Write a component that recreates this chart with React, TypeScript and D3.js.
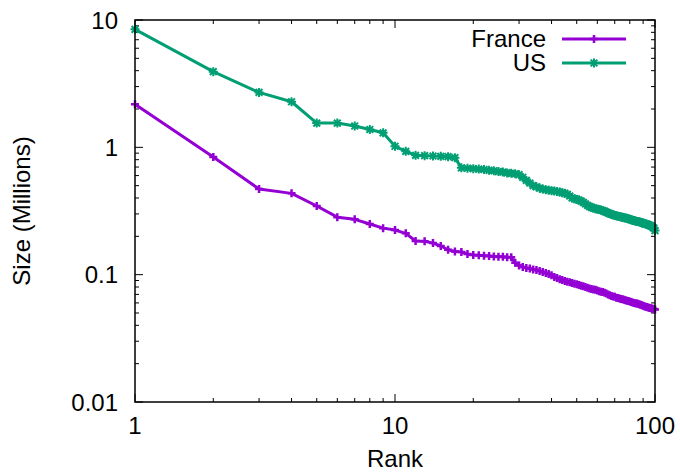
import React from "react";
import * as d3 from "d3";

const ranks: number[] = d3.range(1, 101);

const franceSizes: number[] = [
  2.18, 0.84, 0.47, 0.435, 0.346, 0.283, 0.272, 0.25, 0.232, 0.224,
  0.211, 0.184, 0.183, 0.177, 0.168, 0.157, 0.152, 0.151, 0.145, 0.143,
  0.142, 0.141, 0.14, 0.139, 0.138, 0.138, 0.137, 0.137, 0.124, 0.118,
  0.115, 0.113, 0.112, 0.11, 0.109, 0.107, 0.105, 0.103, 0.101, 0.099,
  0.096, 0.094, 0.092, 0.091, 0.089, 0.088, 0.087, 0.086, 0.085, 0.084,
  0.083, 0.082, 0.081, 0.08, 0.079, 0.078, 0.077, 0.0765, 0.076, 0.075,
  0.074, 0.0735, 0.073, 0.072, 0.071, 0.07, 0.069, 0.068, 0.0675, 0.067,
  0.066, 0.0655, 0.065, 0.0645, 0.064, 0.0635, 0.063, 0.0625, 0.062, 0.0615,
  0.061, 0.0605, 0.06, 0.0597, 0.0593, 0.059, 0.0585, 0.058, 0.0575, 0.057,
  0.0565, 0.056, 0.0557, 0.0553, 0.055, 0.0547, 0.0543, 0.054, 0.0537, 0.0533,
];

const usSizes: number[] = [
  8.45, 3.93, 2.7, 2.28, 1.55, 1.55, 1.47, 1.38, 1.3, 1.02,
  0.93, 0.865, 0.86, 0.855, 0.85, 0.845, 0.83, 0.69, 0.685, 0.68,
  0.675, 0.67, 0.66, 0.655, 0.645, 0.64, 0.63, 0.625, 0.62, 0.61,
  0.58, 0.55, 0.525, 0.5, 0.49, 0.478, 0.47, 0.465, 0.46, 0.457,
  0.455, 0.45, 0.445, 0.44, 0.435, 0.428, 0.415, 0.4, 0.395, 0.39,
  0.385, 0.378, 0.37, 0.36, 0.35, 0.342, 0.338, 0.334, 0.33, 0.327,
  0.325, 0.322, 0.318, 0.314, 0.31, 0.305, 0.302, 0.298, 0.295, 0.292,
  0.29, 0.288, 0.286, 0.284, 0.282, 0.28, 0.278, 0.277, 0.275, 0.272,
  0.27, 0.268, 0.266, 0.264, 0.262, 0.261, 0.26, 0.258, 0.256, 0.254,
  0.252, 0.25, 0.249, 0.247, 0.245, 0.243, 0.24, 0.236, 0.232, 0.222,
];

const seriesNames = ["France", "US"];
const seriesColors = ["#9400d3", "#009e73"];
const xTickValues = [1, 10, 100];
const xTickLabels = ["1", "10", "100"];
const yTickValues = [0.01, 0.1, 1, 10];
const yTickLabels = ["0.01", "0.1", "1", "10"];
const xLabel = "Rank";
const yLabel = "Size (Millions)";

const W = 680;
const H = 472;
const L = 135;
const R = 655;
const T = 20;
const B = 402;
const FONT = "'Liberation Sans', Arial, Helvetica, sans-serif";
const FS = 24;

function minorTicks(lo: number, hi: number): number[] {
  const out: number[] = [];
  for (let e = Math.floor(Math.log10(lo)); e < Math.ceil(Math.log10(hi)); e++) {
    for (let k = 2; k <= 9; k++) {
      const v = k * Math.pow(10, e);
      if (v > lo && v < hi) out.push(v);
    }
  }
  return out;
}

function Plus({ x, y, s, color }: { x: number; y: number; s: number; color: string }) {
  return (
    <path d={`M${x - s},${y}H${x + s}M${x},${y - s}V${y + s}`} stroke={color} strokeWidth={2.5} fill="none" />
  );
}

function Star({ x, y, s, color }: { x: number; y: number; s: number; color: string }) {
  const d = s * 0.75;
  return (
    <path
      d={`M${x - d},${y - d}L${x + d},${y + d}M${x - d},${y + d}L${x + d},${y - d}M${x - s},${y}H${x + s}M${x},${y - s}V${y + s}`}
      stroke={color}
      strokeWidth={2}
      fill="none"
    />
  );
}

export default function App() {
  const x = d3.scaleLog().domain([1, 100]).range([L, R]);
  const y = d3.scaleLog().domain([0.01, 10]).range([B, T]);
  const line = d3
    .line<[number, number]>()
    .x((d) => x(d[0]))
    .y((d) => y(d[1]));

  const series = [franceSizes, usSizes].map((vals) => ranks.map((r, i) => [r, vals[i]] as [number, number]));

  const xMinor = minorTicks(1, 100);
  const yMinor = minorTicks(0.01, 10);
  const major = 8;
  const minor = 4;

  return (
    <svg width={W} height={H} style={{ position: "absolute", left: 0, top: 0, background: "#fff" }}>
      <rect x={0} y={0} width={W} height={H} fill="#fff" />
      {/* ticks */}
      <g stroke="#000" strokeWidth={1}>
        {xTickValues.map((v) => (
          <g key={"xm" + v}>
            <line x1={x(v)} x2={x(v)} y1={B} y2={B - major} />
            <line x1={x(v)} x2={x(v)} y1={T} y2={T + major} />
          </g>
        ))}
        {xMinor.map((v) => (
          <g key={"xn" + v}>
            <line x1={x(v)} x2={x(v)} y1={B} y2={B - minor} />
            <line x1={x(v)} x2={x(v)} y1={T} y2={T + minor} />
          </g>
        ))}
        {yTickValues.map((v) => (
          <g key={"ym" + v}>
            <line x1={L} x2={L + major} y1={y(v)} y2={y(v)} />
            <line x1={R} x2={R - major} y1={y(v)} y2={y(v)} />
          </g>
        ))}
        {yMinor.map((v) => (
          <g key={"yn" + v}>
            <line x1={L} x2={L + minor} y1={y(v)} y2={y(v)} />
            <line x1={R} x2={R - minor} y1={y(v)} y2={y(v)} />
          </g>
        ))}
      </g>
      {/* tick labels */}
      <g fontFamily={FONT} fontSize={FS} fill="#000">
        {xTickValues.map((v, i) => (
          <text key={"xl" + v} x={x(v)} y={B + 32} textAnchor="middle">
            {xTickLabels[i]}
          </text>
        ))}
        {yTickValues.map((v, i) => (
          <text key={"yl" + v} x={L - 17} y={y(v) + 8.5} textAnchor="end">
            {yTickLabels[i]}
          </text>
        ))}
        <text x={(L + R) / 2} y={H - 5} textAnchor="middle">
          {xLabel}
        </text>
        <text transform={`translate(30,${(T + B) / 2}) rotate(-90)`} textAnchor="middle">
          {yLabel}
        </text>
      </g>
      {/* series */}
      {series.map((pts, si) => (
        <g key={"s" + si}>
          <path d={line(pts) || ""} fill="none" stroke={seriesColors[si]} strokeWidth={3} strokeLinejoin="round" />
          {pts.map((p, i) =>
            si === 0 ? (
              <Plus key={i} x={x(p[0])} y={y(p[1])} s={4} color={seriesColors[si]} />
            ) : (
              <Star key={i} x={x(p[0])} y={y(p[1])} s={4.5} color={seriesColors[si]} />
            )
          )}
        </g>
      ))}
      {/* legend */}
      <g fontFamily={FONT} fontSize={FS} fill="#000">
        {seriesNames.map((n, i) => {
          const ly = 39 + i * 24;
          return (
            <g key={"lg" + n}>
              <text x={546} y={ly + 8} textAnchor="end">
                {n}
              </text>
              <line x1={562} x2={626} y1={ly} y2={ly} stroke={seriesColors[i]} strokeWidth={3} />
              {i === 0 ? (
                <Plus x={594} y={ly} s={4} color={seriesColors[i]} />
              ) : (
                <Star x={594} y={ly} s={4.5} color={seriesColors[i]} />
              )}
            </g>
          );
        })}
      </g>
      {/* border */}
      <rect x={L} y={T} width={R - L} height={B - T} fill="none" stroke="#000" strokeWidth={1.5} />
    </svg>
  );
}
